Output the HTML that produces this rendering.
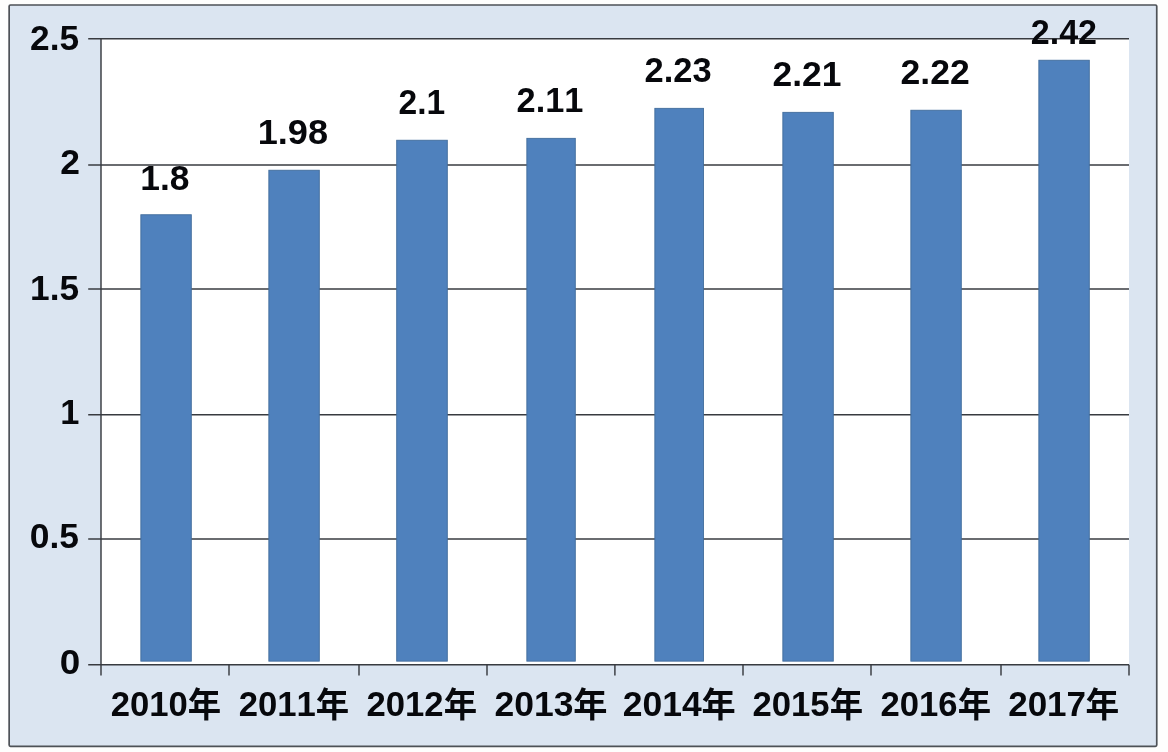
<!DOCTYPE html>
<html lang="zh-CN">
<head>
<meta charset="utf-8">
<title>2010年-2017年 柱状图</title>
<style>
html,body{margin:0;padding:0;background:#fefefd;}
body{width:1168px;height:752px;overflow:hidden;}
svg{display:block;}
text{font-family:"Liberation Sans","Noto Sans CJK SC",sans-serif;font-weight:bold;font-size:34px;font-kerning:none;fill:#07080c;}
.g{stroke:#383b40;stroke-width:1.45;fill:none;}
.bar{fill:#4f81bd;stroke:#416c9c;stroke-width:0.9;}
</style>
</head>
<body>
<svg xmlns="http://www.w3.org/2000/svg" width="1168" height="752" viewBox="0 0 1168 752">
<rect x="0" y="0" width="1168" height="752" fill="#fefefd"/>
<rect x="9.15" y="5.0" width="1147.6" height="741.4" rx="1.3" ry="1.3" fill="#dbe5f1" stroke="#4e5257" stroke-width="1.7"/>
<rect x="101.0" y="38.75" width="1028.0" height="626.0" fill="#ffffff"/>
<g class="g">
<line x1="88.2" y1="664.75" x2="1129.0" y2="664.75"/>
<line x1="88.2" y1="539.00" x2="1129.0" y2="539.00"/>
<line x1="88.2" y1="414.75" x2="1129.0" y2="414.75"/>
<line x1="88.2" y1="289.00" x2="1129.0" y2="289.00"/>
<line x1="88.2" y1="164.90" x2="1129.0" y2="164.90"/>
<line x1="88.2" y1="38.75" x2="1129.0" y2="38.75"/>
<line x1="101.0" y1="38.75" x2="101.0" y2="675.55"/>
<line x1="229.00" y1="664.75" x2="229.00" y2="675.55"/>
<line x1="359.00" y1="664.75" x2="359.00" y2="675.55"/>
<line x1="487.00" y1="664.75" x2="487.00" y2="675.55"/>
<line x1="614.90" y1="664.75" x2="614.90" y2="675.55"/>
<line x1="743.00" y1="664.75" x2="743.00" y2="675.55"/>
<line x1="871.00" y1="664.75" x2="871.00" y2="675.55"/>
<line x1="1001.00" y1="664.75" x2="1001.00" y2="675.55"/>
<line x1="1129.00" y1="664.75" x2="1129.00" y2="675.55"/>
</g>
<g class="bar">
<rect x="140.85" y="214.75" width="50.45" height="446.40"/>
<rect x="268.85" y="170.25" width="50.45" height="490.90"/>
<rect x="396.70" y="140.25" width="50.60" height="520.90"/>
<rect x="526.85" y="138.35" width="48.45" height="522.80"/>
<rect x="654.85" y="108.35" width="48.60" height="552.80"/>
<rect x="782.85" y="112.35" width="50.45" height="548.80"/>
<rect x="910.85" y="110.25" width="50.45" height="550.90"/>
<rect x="1038.85" y="60.25" width="50.45" height="600.90"/>
</g>
<g>
<text transform="matrix(1.0380 0 0 1.0216 30.01 49.83)">2.5</text>
<text transform="matrix(1.0417 0 0 1.0257 60.26 174.08)">2</text>
<text transform="matrix(1.0373 0 0 1.0195 30.05 299.93)">1.5</text>
<text transform="matrix(1.0120 0 0 1.0257 60.35 424.08)">1</text>
<text transform="matrix(1.0419 0 0 1.0362 29.83 548.07)">0.5</text>
<text transform="matrix(1.0836 0 0 1.0048 59.78 673.83)">0</text>
</g>
<g>
<text transform="matrix(1.0427 0 0 1.0216 140.28 189.83)">1.8</text>
<text transform="matrix(1.0622 0 0 1.0216 257.74 144.23)">1.98</text>
<text transform="matrix(0.9893 0 0 1.0216 398.57 114.23)">2.1</text>
<text transform="matrix(1.0101 0 0 1.0195 516.55 112.08)">2.11</text>
<text transform="matrix(1.0141 0 0 1.0195 644.54 82.08)">2.23</text>
<text transform="matrix(1.0413 0 0 1.0195 772.51 86.08)">2.21</text>
<text transform="matrix(1.0469 0 0 1.0216 900.50 84.23)">2.22</text>
<text transform="matrix(1.0013 0 0 1.0216 1030.81 44.23)">2.42</text>
</g>
<g>
<text transform="matrix(1.0190 0 0 1.0257 110.79 715.93)">2010<tspan x="75.63" y="0.86" font-size="32.76">年</tspan></text>
<text transform="matrix(1.0190 0 0 1.0257 238.79 715.93)">2011<tspan x="75.53" y="0.86" font-size="32.76">年</tspan></text>
<text transform="matrix(1.0190 0 0 1.0257 366.54 715.93)">2012<tspan x="75.78" y="0.86" font-size="32.76">年</tspan></text>
<text transform="matrix(1.0444 0 0 1.0257 494.51 715.93)">2013<tspan x="75.48" y="0.86" font-size="32.76">年</tspan></text>
<text transform="matrix(1.0444 0 0 1.0257 622.66 715.93)">2014<tspan x="75.43" y="0.86" font-size="32.76">年</tspan></text>
<text transform="matrix(1.0190 0 0 1.0257 752.54 715.93)">2015<tspan x="75.78" y="0.86" font-size="32.76">年</tspan></text>
<text transform="matrix(1.0190 0 0 1.0257 880.54 715.93)">2016<tspan x="75.78" y="0.86" font-size="32.76">年</tspan></text>
<text transform="matrix(1.0292 0 0 1.0257 1008.18 715.93)">2017<tspan x="75.02" y="0.86" font-size="32.76">年</tspan></text>
</g>
</svg>
</body>
</html>
